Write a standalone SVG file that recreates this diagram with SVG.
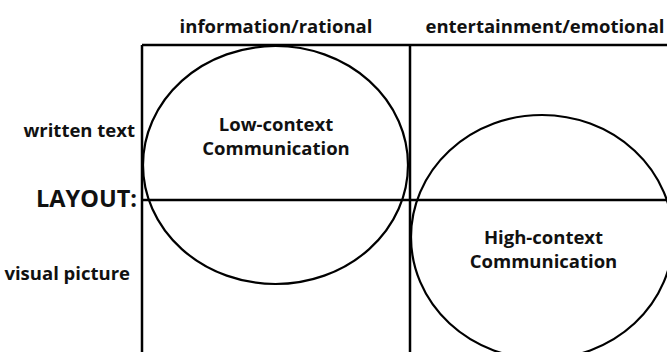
<svg xmlns="http://www.w3.org/2000/svg" width="667" height="352" viewBox="0 0 667 352">
  <style>
    .lbl { font-family: "Open Sans", "Liberation Sans", sans-serif; font-weight: bold; fill: #111; }
    .grid { stroke: #000; stroke-width: 2.5; fill: none; }
    .zone { stroke: #000; stroke-width: 2.2; fill: none; }
  </style>
  <rect width="667" height="352" fill="#fff"/>

  <!-- column headings -->
  <g id="col-headings">
    <text class="lbl" x="276" y="33" font-size="18.5" text-anchor="middle">information/rational</text>
    <text class="lbl" x="545" y="33" font-size="18.5" text-anchor="middle">entertainment/emotional</text>
  </g>

  <!-- row headings -->
  <g id="row-headings">
    <text class="lbl" x="135" y="137" font-size="18.5" text-anchor="end">written text</text>
    <text class="lbl" x="137" y="207" font-size="23.5" text-anchor="end">LAYOUT:</text>
    <text class="lbl" x="130" y="280" font-size="18.5" text-anchor="end">visual picture</text>
  </g>

  <!-- grid lines -->
  <g id="connectors">
    <line class="grid" x1="142" y1="45" x2="667" y2="45"/>
    <line class="grid" x1="142" y1="45" x2="142" y2="352"/>
    <line class="grid" x1="410" y1="45" x2="410" y2="352"/>
    <line class="grid" x1="142" y1="200" x2="667" y2="200"/>
  </g>

  <g id="low-context">
    <ellipse class="zone" cx="275.5" cy="165" rx="132.5" ry="119"/>
    <text class="lbl" x="276" y="131" font-size="18.5" text-anchor="middle">Low-context</text>
    <text class="lbl" x="276" y="155" font-size="18.5" text-anchor="middle">Communication</text>
  </g>

  <g id="high-context">
    <ellipse class="zone" cx="542" cy="237" rx="131" ry="122"/>
    <text class="lbl" x="543.5" y="244" font-size="18.5" text-anchor="middle">High-context</text>
    <text class="lbl" x="543.5" y="268" font-size="18.5" text-anchor="middle">Communication</text>
  </g>
</svg>
